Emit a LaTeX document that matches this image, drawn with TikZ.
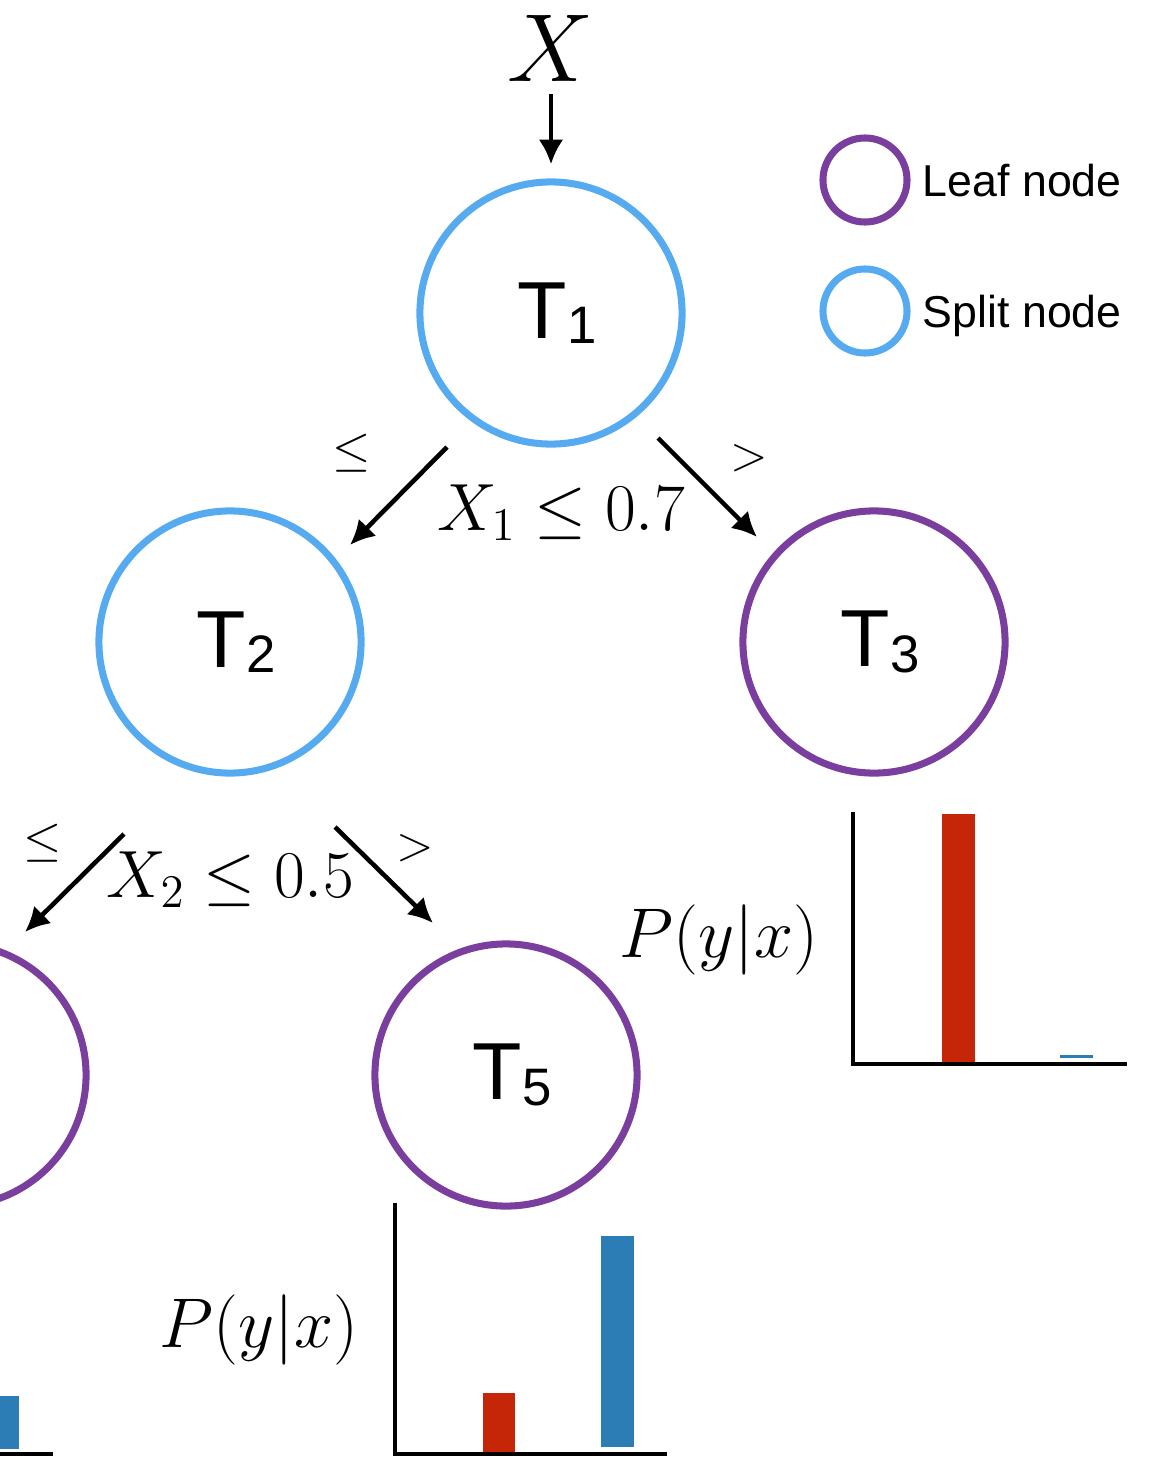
\RequirePackage{fix-cm}
\documentclass[tikz,border=0pt]{standalone}
\usepackage[no-math]{fontspec}
\newfontfamily\keyfont{Liberation Sans}
\usetikzlibrary{arrows.meta}

\definecolor{splitblue}{RGB}{86,170,240}
\definecolor{leafpurple}{RGB}{122,62,158}
\definecolor{barred}{RGB}{198,38,8}
\definecolor{barblue}{RGB}{44,125,182}

\newcommand{\tname}[1]{{\keyfont\fontsize{23}{23}\selectfont\hspace{3.4pt}T\raisebox{-1.6pt}{\fontsize{15}{15}\selectfont #1}}}

\begin{document}
\begin{tikzpicture}[x=0.01cm, y=-0.01cm,
    split/.style={circle, draw=splitblue, line width=2pt, minimum size=2.62cm, inner sep=0pt},
    leaf/.style={split, draw=leafpurple},
    keydot/.style={circle, line width=2pt, minimum size=0.84cm, inner sep=0pt},
    keytext/.style={anchor=west, text depth=0pt, font=\keyfont\fontsize{12.7}{15}\selectfont},
    arr/.style={-{Latex[length=7pt,width=7pt]}, line width=1.3pt},
    axis/.style={line width=1.4pt},
    cond/.style={font=\fontsize{19}{23}\selectfont},
    side/.style={font=\fontsize{14}{17}\selectfont},
    prob/.style={font=\fontsize{20}{24}\selectfont}]
    \useasboundingbox (0,0) rectangle (1151,1457);
    \clip (0,0) rectangle (1151,1457);

    \node[font=\fontsize{27.5}{30}\selectfont, inner sep=0pt] (x) at (551,48) {$X$};
    \node[split] (T1) at (551,313) {\tname{1}};
    \node[split] (T2) at (230,642) {\tname{2}};
    \node[leaf] (T3) at (874,642) {\tname{3}};
    \node[leaf] (T4) at (-45,1075) {};
    \node[leaf] (T5) at (506,1075) {\tname{5}};

    \draw[arr, shorten <=3.5pt, shorten >=4pt] (x) -- (T1);
    \draw[arr] ([shift={(-104,134)}]T1.center) -- ([shift={(120,-97)}]T2.center);
    \draw[arr] ([shift={(107,125)}]T1.center) -- ([shift={(-117,-105)}]T3.center);
    \draw[arr] ([shift={(-106,192)}]T2.center) -- ([shift={(70,-143)}]T4.center);
    \draw[arr] ([shift={(105,185)}]T2.center) -- ([shift={(-73,-152)}]T5.center);

    \node[side] (le1) at (352,453) {$\leq$};
    \node[side] (gt1) at (749,458) {$>$};
    \node[cond] (c1) at (561,513) {$X_1 \leq 0.7$};
    \node[side] (le2) at (43,843) {$\leq$};
    \node[side] (gt2) at (415,848) {$>$};
    \node[cond] (c2) at (230,880) {$X_2 \leq 0.5$};

    \node[keydot, draw=leafpurple] (leafkey) at (865,180) {};
    \node[keytext] (leaftext) at (leafkey.east) {Leaf node};
    \node[keydot, draw=splitblue] (splitkey) at (865,311) {};
    \node[keytext] (splittext) at (splitkey.east) {Split node};

    \node[prob] (p3) at (719,940) {$P(y|x)$};
    \draw[axis] (853,812) -- (853,1064) -- (1127,1064);
    \fill[barred] (942,814) rectangle (975,1062);
    \fill[barblue] (1060,1055) rectangle (1093,1058);

    \node[prob] (p5) at (259,1330) {$P(y|x)$};
    \draw[axis] (395,1203) -- (395,1454) -- (667,1454);
    \fill[barred] (483,1393) rectangle (515,1452);
    \fill[barblue] (601,1236) rectangle (634,1447);

    \draw[axis] (-60,1454) -- (53,1454);
    \fill[barblue] (-15,1396) rectangle (19,1449);
\end{tikzpicture}
\end{document}
